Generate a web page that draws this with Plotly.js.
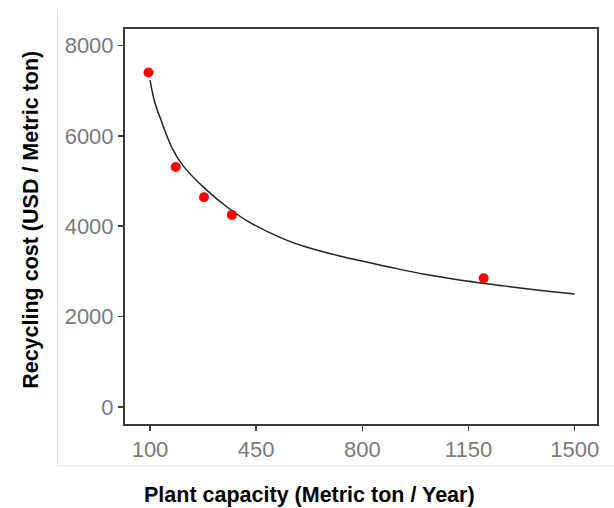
<!DOCTYPE html>
<html>
<head>
<meta charset="utf-8">
<script src="https://cdn.plot.ly/plotly-3.0.1.min.js"></script>
<style>html,body{margin:0;padding:0;background:#fff;}#chart{width:614px;height:508px;}</style>
</head>
<body>
<div id="chart"></div>
<script>
// Observed data points (plant capacity, recycling cost)
const capacity = [95, 185, 278, 370, 1200];
const cost = [7400, 5310, 4640, 4250, 2850];

// Fitted curve, values
const curveCapacity = [100, 115, 135, 175, 210, 285, 365, 430, 540, 615, 725, 825, 900, 1010, 1120, 1265, 1375, 1500];
const curveCost = [7230, 6760, 6370, 5700, 5330, 4810, 4370, 4080, 3720, 3540, 3340, 3190, 3080, 2930, 2810, 2680, 2590, 2500];

const xTicks = [100, 450, 800, 1150, 1500];
const yTicks = [0, 2000, 4000, 6000, 8000];

const xTitle = 'Plant capacity (Metric ton / Year)';
const yTitle = 'Recycling cost (USD / Metric ton)';

const traces = [
  {
    x: curveCapacity, y: curveCost, type: 'scatter', mode: 'lines',
    line: {color: '#222222', width: 1.5, shape: 'spline', smoothing: 1},
    hoverinfo: 'skip', showlegend: false
  },
  {
    x: capacity, y: cost, type: 'scatter', mode: 'markers',
    marker: {color: '#ff0000', size: 10},
    showlegend: false
  }
];

const tickFont = {family: 'Liberation Sans, Arial, sans-serif', size: 22, color: '#7a7a7a'};
const titleFont = {family: 'Liberation Sans, Arial, sans-serif', size: 21.5, color: '#000000', weight: 'bold'};

const layout = {
  width: 614, height: 508,
  margin: {l: 125, r: 17, t: 29, b: 84},
  paper_bgcolor: '#ffffff', plot_bgcolor: '#ffffff',
  showlegend: false,
  xaxis: {
    range: [17.6, 1573.5], tickvals: xTicks, ticktext: xTicks.map(String),
    showgrid: false, zeroline: false,
    showline: true, mirror: true, linecolor: '#3a3a3a', linewidth: 2,
    ticks: 'outside', ticklen: 5, tickwidth: 1.5, tickcolor: '#3a3a3a',
    tickfont: tickFont,
    automargin: false
  },
  yaxis: {
    range: [-376, 8363], tickvals: yTicks, ticktext: yTicks.map(String),
    showgrid: false, zeroline: false,
    showline: true, mirror: true, linecolor: '#3a3a3a', linewidth: 2,
    ticks: 'outside', ticklen: 5, tickwidth: 1.5, tickcolor: '#3a3a3a',
    tickfont: tickFont,
    automargin: false
  },
  annotations: [
    {text: xTitle, xref: 'paper', yref: 'paper', x: 0.3917, y: -0.179,
     xanchor: 'center', yanchor: 'middle', showarrow: false, font: titleFont},
    {text: yTitle, xref: 'paper', yref: 'paper', x: -0.199, y: 0.517, textangle: -90,
     xanchor: 'center', yanchor: 'middle', showarrow: false, font: titleFont}
  ],
  shapes: [
    {type: 'line', xref: 'paper', yref: 'paper', x0: -0.1429, x1: -0.1429, y0: -0.1056, y1: 1.0489,
     line: {color: '#d9d9d9', width: 1}},
    {type: 'line', xref: 'paper', yref: 'paper', x0: -0.1429, x1: 1.04, y0: -0.1056, y1: -0.1056,
     line: {color: '#e6e6e6', width: 1}}
  ]
};

Plotly.newPlot('chart', traces, layout, {displayModeBar: false, staticPlot: true});
</script>
</body>
</html>
